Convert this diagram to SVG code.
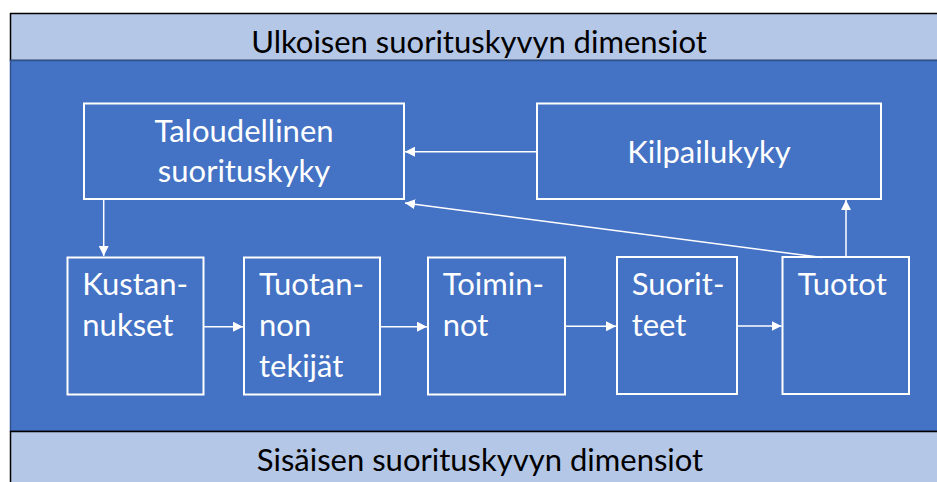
<svg xmlns="http://www.w3.org/2000/svg" width="937" height="482" viewBox="0 0 937 482">
<defs>
<style>
.band{fill:#B4C7E7;stroke:#000;stroke-width:1.5}
.bt{font-family:Lato,"Open Sans",sans-serif;font-size:31px;fill:#000;text-anchor:middle}
.box{fill:#4472C4;stroke:#fff;stroke-width:2}
.t{font-family:Lato,"Open Sans",sans-serif;font-size:31px;fill:#fff}
.c{text-anchor:middle}
.conn line{stroke:#fff;stroke-width:1.5}
</style>
<marker id="ah" viewBox="0 0 10 10" refX="10" refY="5" markerWidth="10" markerHeight="10" markerUnits="userSpaceOnUse" orient="auto">
<path d="M0,0 L10,5 L0,10 z" fill="#fff"/>
</marker>
</defs>
<rect width="937" height="482" fill="#fff"/>
<g id="band-top">
<rect class="band" x="10.5" y="13.5" width="940" height="47"/>
<text class="bt" x="479" y="53">Ulkoisen suorituskyvyn dimensiot</text>
</g>
<rect x="10.5" y="60.5" width="940" height="370.5" fill="#4472C4" stroke="#2F528F" stroke-width="1.5"/>
<g id="band-bottom">
<rect class="band" x="10.5" y="431.5" width="940" height="60"/>
<text class="bt" x="480" y="471">Sisäisen suorituskyvyn dimensiot</text>
</g>
<g id="taloudellinen">
<rect class="box" x="84" y="103.5" width="320" height="95.5"/>
<text class="t c" x="244" y="142.3">Taloudellinen</text>
<text class="t c" x="244" y="181.7">suorituskyky</text>
</g>
<g id="kilpailukyky">
<rect class="box" x="537" y="103.5" width="344" height="95.5"/>
<text class="t c" x="709" y="162.7">Kilpailukyky</text>
</g>
<g id="kustannukset">
<rect class="box" x="67.5" y="257.5" width="136" height="137"/>
<text class="t" x="82.3" y="295.3">Kustan-</text>
<text class="t" x="82.3" y="335.7">nukset</text>
</g>
<g id="tuotannon">
<rect class="box" x="244" y="257.5" width="136" height="137"/>
<text class="t" x="259" y="295.3">Tuotan-</text>
<text class="t" x="259" y="335.7">non</text>
<text class="t" x="259" y="376.7">tekijät</text>
</g>
<g id="toiminnot">
<rect class="box" x="428" y="257.5" width="137" height="137"/>
<text class="t" x="442.7" y="295.3">Toimin-</text>
<text class="t" x="442.7" y="335.7">not</text>
</g>
<g id="suoritteet">
<rect class="box" x="617" y="257" width="120" height="137"/>
<text class="t" x="631.7" y="295.3">Suorit-</text>
<text class="t" x="631.7" y="335.7">teet</text>
</g>
<g id="tuotot">
<rect class="box" x="782.5" y="257" width="126.5" height="137"/>
<text class="t" x="797.7" y="295.3">Tuotot</text>
</g>
<g class="conn" id="connectors">
<line x1="537" y1="151.7" x2="405" y2="151.7" marker-end="url(#ah)"/>
<line x1="822" y1="257.5" x2="405" y2="203" marker-end="url(#ah)"/>
<line x1="846" y1="257" x2="846" y2="200" marker-end="url(#ah)"/>
<line x1="103.7" y1="199" x2="103.7" y2="256" marker-end="url(#ah)"/>
<line x1="204" y1="326.7" x2="243" y2="326.7" marker-end="url(#ah)"/>
<line x1="380" y1="326.7" x2="427" y2="326.7" marker-end="url(#ah)"/>
<line x1="565" y1="326.3" x2="616" y2="326.3" marker-end="url(#ah)"/>
<line x1="737" y1="326" x2="781.5" y2="326" marker-end="url(#ah)"/>
</g>
</svg>
